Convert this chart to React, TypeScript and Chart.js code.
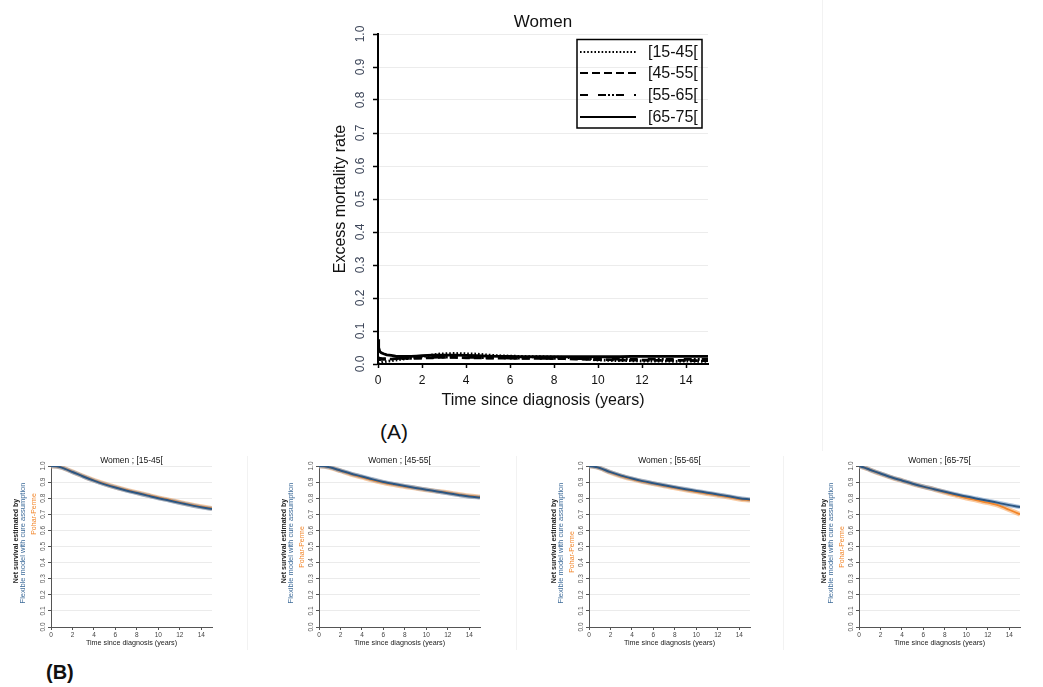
import React, { useEffect, useRef } from "react";
import { Chart, registerables } from "chart.js";

Chart.register(...registerables);

const FAMILY = '"Liberation Sans", Arial, "DejaVu Sans", sans-serif';

// ---------------- Panel (A): excess mortality rate ----------------
const mainTitle = "Women";
const mainXTitle = "Time since diagnosis (years)";
const mainYTitle = "Excess mortality rate";
const ageGroups = ["[15-45[", "[45-55[", "[55-65[", "[65-75["];
const mainTimes = [0, 0.03, 0.08, 0.15, 0.25, 0.4, 0.6, 0.8, 1, 1.25, 1.5, 1.75, 2, 2.25, 2.5, 2.75, 3, 3.5, 4, 4.5, 5, 5.5, 6, 6.5, 7, 7.5, 8, 8.5, 9, 9.5, 10, 10.5, 11, 11.5, 12, 12.5, 13, 13.5, 14, 14.5, 15];
const rate1545 = [0.002, 0.002, 0.003, 0.004, 0.006, 0.008, 0.010, 0.012, 0.014, 0.016, 0.018, 0.020, 0.022, 0.025, 0.028, 0.030, 0.031, 0.032, 0.031, 0.030, 0.027, 0.025, 0.024, 0.023, 0.022, 0.022, 0.021, 0.020, 0.018, 0.015, 0.012, 0.011, 0.010, 0.010, 0.009, 0.009, 0.009, 0.008, 0.009, 0.008, 0.008];
const rate4555 = [0.012, 0.013, 0.013, 0.014, 0.014, 0.015, 0.015, 0.016, 0.016, 0.017, 0.017, 0.018, 0.018, 0.019, 0.019, 0.020, 0.020, 0.020, 0.019, 0.019, 0.018, 0.018, 0.018, 0.017, 0.017, 0.017, 0.016, 0.016, 0.015, 0.014, 0.013, 0.013, 0.012, 0.012, 0.012, 0.011, 0.011, 0.011, 0.011, 0.010, 0.010];
const rate5565 = [0.020, 0.019, 0.018, 0.017, 0.016, 0.016, 0.016, 0.016, 0.017, 0.017, 0.018, 0.018, 0.019, 0.020, 0.020, 0.021, 0.021, 0.021, 0.020, 0.020, 0.019, 0.019, 0.018, 0.018, 0.018, 0.017, 0.017, 0.017, 0.016, 0.016, 0.016, 0.015, 0.015, 0.015, 0.015, 0.015, 0.014, 0.014, 0.014, 0.014, 0.014];
const rate6575 = [0.075, 0.050, 0.038, 0.034, 0.031, 0.028, 0.026, 0.024, 0.023, 0.023, 0.023, 0.024, 0.025, 0.026, 0.027, 0.027, 0.027, 0.027, 0.026, 0.025, 0.024, 0.023, 0.023, 0.022, 0.022, 0.022, 0.022, 0.022, 0.022, 0.022, 0.022, 0.022, 0.022, 0.023, 0.023, 0.023, 0.023, 0.023, 0.023, 0.023, 0.023];
const mainRates = [rate1545, rate4555, rate5565, rate6575];
const mainDashes = [[1.6, 2], [8, 4], [8, 10, 8, 2, 2, 2, 2, 2], []];

// ---------------- Panel (B): net survival ----------------
const survTitles = ["Women ; [15-45[", "Women ; [45-55[", "Women ; [55-65[", "Women ; [65-75["];
const survXTitle = "Time since diagnosis (years)";
const survYTitleLines = ["Net survival estimated by", "Flexible model with cure assumption", "Pohar-Perme"];
const survTimes = [0, 0.5, 1, 2, 3, 4, 5, 6, 7, 8, 9, 10, 11, 12, 13, 14, 15];
const flex1545 = [1.000, 0.998, 0.990, 0.963, 0.935, 0.909, 0.886, 0.866, 0.848, 0.832, 0.816, 0.800, 0.786, 0.771, 0.757, 0.744, 0.733];
const pohar1545 = [1.000, 0.998, 0.991, 0.964, 0.937, 0.911, 0.889, 0.869, 0.851, 0.835, 0.819, 0.803, 0.789, 0.774, 0.760, 0.747, 0.736];
const flex4555 = [1.000, 0.998, 0.992, 0.972, 0.952, 0.935, 0.917, 0.901, 0.888, 0.876, 0.864, 0.853, 0.842, 0.831, 0.820, 0.810, 0.805];
const pohar4555 = [1.000, 0.998, 0.991, 0.970, 0.948, 0.930, 0.912, 0.897, 0.884, 0.872, 0.862, 0.852, 0.843, 0.834, 0.824, 0.814, 0.808];
const flex5565 = [1.000, 0.996, 0.988, 0.962, 0.940, 0.922, 0.906, 0.893, 0.880, 0.868, 0.856, 0.845, 0.834, 0.823, 0.812, 0.800, 0.792];
const pohar5565 = [1.000, 0.996, 0.987, 0.960, 0.937, 0.919, 0.903, 0.890, 0.876, 0.864, 0.852, 0.840, 0.829, 0.818, 0.807, 0.795, 0.787];
const flex6575 = [1.000, 0.990, 0.977, 0.953, 0.930, 0.910, 0.890, 0.872, 0.856, 0.840, 0.825, 0.810, 0.797, 0.784, 0.771, 0.757, 0.745];
const pohar6575 = [1.000, 0.990, 0.977, 0.952, 0.929, 0.909, 0.889, 0.871, 0.855, 0.836, 0.818, 0.801, 0.787, 0.772, 0.755, 0.728, 0.700];
const flexSeries = [flex1545, flex4555, flex5565, flex6575];
const poharSeries = [pohar1545, pohar4555, pohar5565, pohar6575];

// ---------------- layout (not data) ----------------
const survPlotLefts = [51, 319, 589, 859];
const poharLabelY = [64, 97, 102, 97];

const BLUE = "#2b5683";
const BLUE_BAND = "rgba(110,150,195,0.6)";
const ORANGE = "#f2862a";
const ORANGE_BAND = "rgba(248,175,110,0.65)";

const rotatedYTicks = {
  id: "rotatedYTicks",
  afterDraw(chart: any, _a: any, opts: any) {
    const scale = chart.scales.y;
    const ctx = chart.ctx;
    ctx.save();
    ctx.font = `${opts.size}px ${FAMILY}`;
    ctx.fillStyle = opts.color;
    ctx.textAlign = "center";
    ctx.textBaseline = "middle";
    for (const t of scale.ticks) {
      const y = scale.getPixelForValue(t.value);
      ctx.save();
      ctx.translate(chart.chartArea.left - opts.offset, y);
      ctx.rotate(-Math.PI / 2);
      ctx.fillText(Number(t.value).toFixed(1), 0, 0);
      ctx.restore();
    }
    ctx.restore();
  },
};

const decor = {
  id: "decor",
  afterDraw(chart: any, _a: any, opts: any) {
    const ctx = chart.ctx;
    const area = chart.chartArea;
    ctx.save();
    if (opts.title) {
      ctx.font = `${opts.title.size}px ${FAMILY}`;
      ctx.fillStyle = "#111";
      ctx.textAlign = "center";
      ctx.textBaseline = "middle";
      ctx.fillText(opts.title.text, (area.left + area.right) / 2, opts.title.y);
    }
    if (opts.yLines) {
      for (const l of opts.yLines) {
        ctx.save();
        ctx.font = `${l.bold ? "bold " : ""}${l.size}px ${FAMILY}`;
        ctx.fillStyle = l.color;
        ctx.textAlign = "center";
        ctx.textBaseline = "middle";
        ctx.translate(area.left + l.dx, l.y);
        ctx.rotate(-Math.PI / 2);
        ctx.fillText(l.text, 0, 0);
        ctx.restore();
      }
    }
    if (opts.legend) {
      const L = opts.legend;
      ctx.strokeStyle = "#000";
      ctx.lineWidth = 1.5;
      ctx.strokeRect(L.x0, L.y0, L.x1 - L.x0, L.y1 - L.y0);
      chart.data.datasets.forEach((ds: any, i: number) => {
        const y = L.rows[i];
        ctx.save();
        ctx.strokeStyle = "#000";
        ctx.lineWidth = 2;
        ctx.setLineDash(ds.borderDash || []);
        ctx.beginPath();
        ctx.moveTo(L.lineX0, y);
        ctx.lineTo(L.lineX1, y);
        ctx.stroke();
        ctx.restore();
        ctx.font = `16px ${FAMILY}`;
        ctx.fillStyle = "#111";
        ctx.textAlign = "left";
        ctx.textBaseline = "middle";
        ctx.fillText(ds.label, L.textX, y + 1);
      });
    }
    ctx.restore();
  },
};

function MainChart() {
  const ref = useRef<HTMLCanvasElement>(null);
  useEffect(() => {
    const chart = new Chart(ref.current as HTMLCanvasElement, {
      type: "line",
      data: {
        datasets: ageGroups.map((label, i) => ({
          label,
          data: mainTimes.map((t, j) => ({ x: t, y: mainRates[i][j] })),
          borderColor: "#000",
          borderWidth: 2.8,
          borderDash: mainDashes[i],
          pointRadius: 0,
          tension: 0,
          fill: false,
        })),
      },
      options: {
        responsive: false,
        animation: false,
        events: [],
        layout: { padding: { top: 34, right: 22, bottom: 10, left: 0 } },
        plugins: {
          legend: { display: false },
          tooltip: { enabled: false },
          rotatedYTicks: { size: 12, color: "#3d4659", offset: 17 },
          decor: {
            title: { text: mainTitle, size: 17, y: 22 },
            legend: { x0: 247, y0: 39.5, x1: 372, y1: 128, rows: [52, 73, 95, 117], lineX0: 250, lineX1: 306, textX: 318 },
          },
        } as any,
        scales: {
          x: {
            type: "linear",
            min: 0,
            max: 15,
            afterFit: (s: any) => { s.height = 46; },
            ticks: { stepSize: 2, includeBounds: false, autoSkip: false, maxRotation: 0, padding: 5, color: "#111", font: { size: 12, family: FAMILY } },
            grid: { drawOnChartArea: false, drawTicks: true, tickLength: 4, tickColor: "#000", tickWidth: 1.5 },
            border: { color: "#000", width: 2 },
            title: { display: true, text: mainXTitle, color: "#111", font: { size: 16, family: FAMILY }, padding: { top: 0, bottom: 0 } },
          },
          y: {
            min: 0,
            max: 1,
            afterFit: (s: any) => { s.width = 48; },
            ticks: { stepSize: 0.1, display: false },
            grid: { color: "#ececec", lineWidth: 1, drawTicks: true, tickLength: 5, tickColor: "#000", tickWidth: 1.5 },
            border: { color: "#000", width: 2 },
            title: { display: true, text: mainYTitle, color: "#111", font: { size: 16, family: FAMILY }, padding: { top: 1.4, bottom: 0 } },
          },
        } as any,
      },
      plugins: [rotatedYTicks, decor],
    });
    return () => chart.destroy();
  }, []);
  return <canvas ref={ref} width={400} height={420} style={{ position: "absolute", left: 330, top: 0, width: 400, height: 420 }} />;
}

function SurvChart({ index }: { index: number }) {
  const ref = useRef<HTMLCanvasElement>(null);
  useEffect(() => {
    const flex = flexSeries[index];
    const pohar = poharSeries[index];
    const pts = (arr: number[]) => survTimes.map((t, j) => ({ x: t, y: arr[j] }));
    const chart = new Chart(ref.current as HTMLCanvasElement, {
      type: "line",
      data: {
        datasets: [
          { label: "Flexible model with cure assumption", data: pts(flex), borderColor: BLUE, borderWidth: 2, pointRadius: 0, tension: 0.3, fill: false },
          { label: "Pohar-Perme", data: pts(pohar), borderColor: ORANGE, borderWidth: 1.8, pointRadius: 0, tension: 0.3, fill: false },
          { label: "Flexible band", data: pts(flex), borderColor: BLUE_BAND, borderWidth: 4.2, pointRadius: 0, tension: 0.3, fill: false },
          { label: "Pohar-Perme band", data: pts(pohar), borderColor: ORANGE_BAND, borderWidth: 4.8, pointRadius: 0, tension: 0.3, fill: false },
        ],
      },
      options: {
        responsive: false,
        animation: false,
        events: [],
        layout: { padding: { top: 16, right: 8, bottom: 2, left: 0 } },
        plugins: {
          legend: { display: false },
          tooltip: { enabled: false },
          rotatedYTicks: { size: 6.5, color: "#555", offset: 8 },
          decor: {
            title: { text: survTitles[index], size: 8.5, y: 11 },
            yLines: [
              { text: survYTitleLines[0], color: "#222", size: 7, bold: true, dx: -34.5, y: 91 },
              { text: survYTitleLines[1], color: "#3d6b99", size: 7.5, dx: -28.5, y: 93 },
              { text: survYTitleLines[2], color: ORANGE, size: 7, dx: -17, y: poharLabelY[index] },
            ],
          },
        } as any,
        scales: {
          x: {
            type: "linear",
            min: 0,
            max: 15,
            afterFit: (s: any) => { s.height = 21; },
            ticks: { stepSize: 2, includeBounds: false, autoSkip: false, maxRotation: 0, padding: 1.5, color: "#444", font: { size: 6.5, family: FAMILY } },
            grid: { drawOnChartArea: false, drawTicks: true, tickLength: 3, tickColor: "#555" },
            border: { color: "#555", width: 1 },
            title: { display: true, text: survXTitle, color: "#222", font: { size: 7.2, family: FAMILY }, padding: { top: 0, bottom: 1 } },
          },
          y: {
            min: 0,
            max: 1,
            afterFit: (s: any) => { s.width = 50; },
            ticks: { stepSize: 0.1, display: false },
            grid: { color: "#ebebeb", lineWidth: 1, drawTicks: true, tickLength: 3, tickColor: "#555" },
            border: { color: "#555", width: 1 },
          },
        } as any,
      },
      plugins: [rotatedYTicks, decor],
    });
    return () => chart.destroy();
  }, [index]);
  const left = survPlotLefts[index] - 50;
  return <canvas ref={ref} width={219} height={200} style={{ position: "absolute", left, top: 450, width: 219, height: 200 }} />;
}

export default function App() {
  const sep = (x: number, y0: number, y1: number) => (
    <div style={{ position: "absolute", left: x, top: y0, width: 1, height: y1 - y0, background: "#f2f2f2" }} />
  );
  return (
    <div style={{ position: "absolute", left: 0, top: 0, width: 1043, height: 687, background: "#fff", fontFamily: FAMILY, overflow: "hidden" }}>
      {sep(822, 0, 451)}
      {sep(247, 456, 650)}
      {sep(516, 456, 650)}
      {sep(783, 456, 650)}
      <MainChart />
      {[0, 1, 2, 3].map((i) => <SurvChart key={i} index={i} />)}
      <div style={{ position: "absolute", left: 380, top: 421, fontSize: 21, lineHeight: "22px", color: "#111" }}>(A)</div>
      <div style={{ position: "absolute", left: 46, top: 661, fontSize: 20, lineHeight: "22px", fontWeight: "bold", color: "#111" }}>(B)</div>
    </div>
  );
}
